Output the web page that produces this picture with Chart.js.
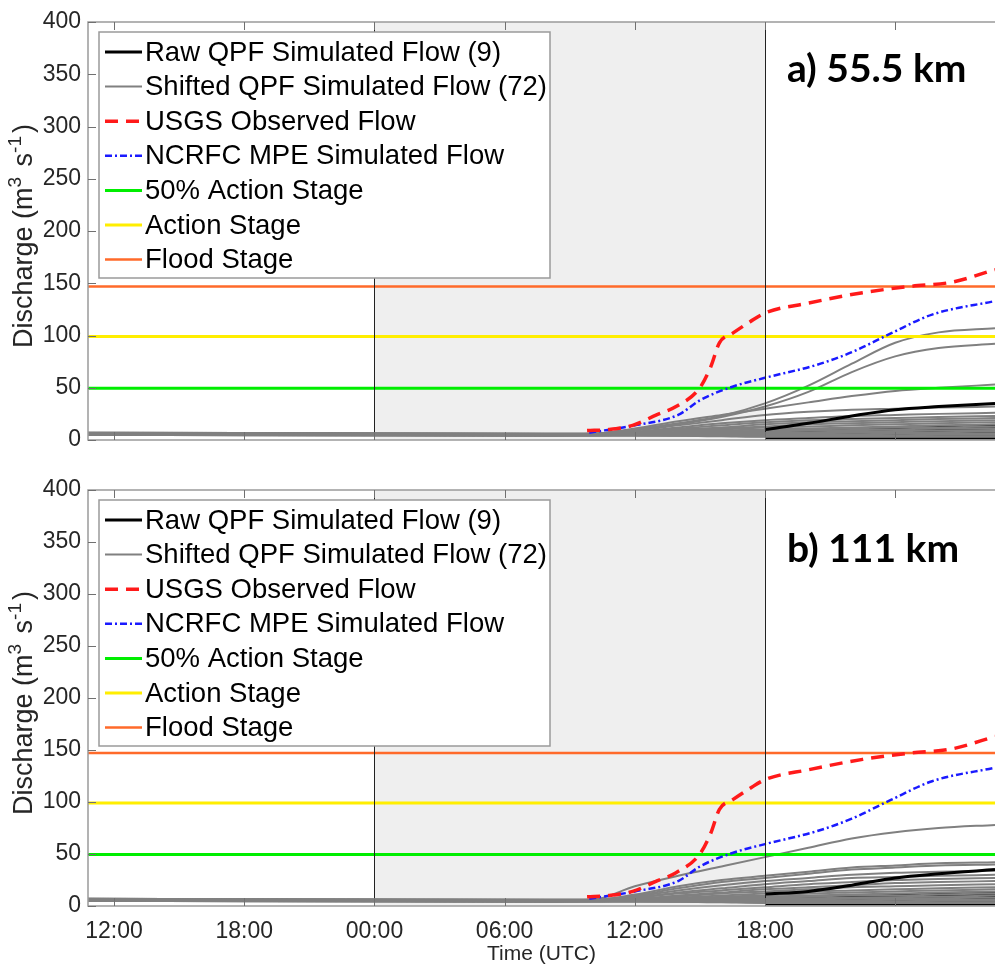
<!DOCTYPE html>
<html>
<head>
<meta charset="utf-8">
<script src="https://cdn.jsdelivr.net/npm/chart.js@4.4.1/dist/chart.umd.min.js"></script>
<style>
  html, body { margin: 0; padding: 0; background: #fff; }
  #wrap { position: relative; width: 995px; height: 970px; }
  canvas { position: absolute; left: 0; }
  #top { top: 0; }
  #bottom { top: 465px; }
</style>
</head>
<body>
<div id="wrap">
  <canvas id="top" width="995" height="465"></canvas>
  <canvas id="bottom" width="995" height="505"></canvas>
</div>
<script>
// x values are hours after 12:00 UTC of the first day
const xMin = -1.2, xMax = 40.6;
const tickHours = [0, 6, 12, 18, 24, 30, 36];
const tickLabels = ['12:00', '18:00', '00:00', '06:00', '12:00', '18:00', '00:00'];
const shadeFrom = 12, shadeTo = 30;

const floodStage = 147, actionStage = 99, halfAction = 49.5;

// USGS observed flow
const obsHours = [21.8, 22.8, 23.9, 25, 25.9, 27, 27.5, 27.9, 28.5, 29.3, 30, 32, 34.5, 36.7, 38.6, 40.6];
const obsFlow  = [9, 10, 14, 24, 32, 50, 70, 93, 102, 113, 121.5, 131, 141, 147, 151, 163];

// NCRFC MPE simulated flow
const mpeHours = [21.9, 24, 26, 27, 28.5, 30, 32.4, 34, 35.8, 37.7, 40.6];
const mpeFlow  = [7, 14, 24, 38, 51, 59.5, 72, 84, 102, 120, 133];

// simulated runs share one time grid
const simHours = [-1.2, 20, 22, 24, 26, 28, 30, 32, 34, 36, 38, 40.6];

// a) 55.5 km
const shiftedA = [
  [7, 6, 6, 10, 16, 23, 35, 52, 73, 93, 103, 107],
  [7, 6, 6, 10, 15, 22, 32, 46, 65, 80, 88, 92],
  [7, 6, 6, 11, 18, 24, 30, 36, 42, 47, 50, 53],
  [6.5, 5.5, 6, 9, 14, 19, 24, 27, 29, 30, 31, 32],
  [6.5, 5.5, 5.5, 8, 12, 16, 19, 21, 23, 24, 25, 26],
  [6.5, 5.5, 5.5, 7, 11, 14, 17, 19, 20, 21, 22, 23],
  [6, 5, 5, 7, 10, 12, 15, 17, 18, 19, 20, 21],
  [6, 5, 5, 6.5, 9, 11, 13, 15, 16, 17, 18, 19],
  [6, 5, 5, 6, 8, 10, 12, 13, 14, 15, 16, 17],
  [6, 5, 5, 6, 7, 9, 10, 11, 12, 13, 14, 15],
  [5.5, 5, 5, 5.5, 6.5, 8, 9, 10, 11, 12, 12, 13],
  [5.5, 5, 5, 5.5, 6, 7, 8, 9, 9.5, 10, 11, 11],
  [5.5, 4.5, 5, 5, 5.5, 6, 7, 7.5, 8, 8.5, 9, 9.5],
  [5.5, 4.5, 4.5, 5, 5, 5.5, 6, 6.5, 7, 7, 7.5, 8],
  [5, 4.5, 4.5, 5, 5, 5, 5, 5.5, 5.5, 6, 6, 6],
  [5, 4.5, 4.5, 4.5, 4.5, 4.5, 4.5, 4.5, 4.5, 4.5, 5, 5],
  [5, 4, 4.5, 4.5, 4, 4, 3.5, 3.5, 3.5, 3.5, 3.5, 3.5],
  [5, 4, 4, 4, 4, 3.5, 3, 3, 3, 3, 3, 3]
];
const rawA = [
  [null, null, null, null, null, null, 10, 16, 23, 29, 32, 35],
  [null, null, null, null, null, null, 7, 8, 8.5, 8.5, 9, 9],
  [null, null, null, null, null, null, 6, 6, 6.5, 7, 7, 7.5],
  [null, null, null, null, null, null, 4.5, 5, 5, 5.5, 5.5, 6],
  [null, null, null, null, null, null, 3.5, 3.5, 4, 4, 4, 4.5],
  [null, null, null, null, null, null, 2.5, 2.5, 2.5, 3, 3, 3],
  [null, null, null, null, null, null, 2, 2, 2, 2, 2, 2],
  [null, null, null, null, null, null, 8, 9, 10, 11, 12, 13],
  [null, null, null, null, null, null, 5, 5, 5.5, 6, 6, 6.5]
];

// b) 111 km
const shiftedB = [
  [7, 6, 6, 19, 29, 38, 47, 56, 65, 71, 75, 78],
  [7, 6, 6, 11, 19, 25, 29, 33, 37, 39, 41, 42],
  [7, 6, 6, 10, 17, 23, 27, 31, 35, 37, 39, 40],
  [6.5, 5.5, 6, 9, 15, 20, 24, 27, 30, 32, 33, 34],
  [6.5, 5.5, 5.5, 8, 13, 17, 21, 24, 27, 28, 29, 30],
  [6.5, 5.5, 5.5, 8, 12, 15, 18, 21, 23, 25, 26, 27],
  [6, 5, 5, 7, 10, 13, 16, 18, 20, 22, 23, 24],
  [6, 5, 5, 7, 9, 12, 14, 16, 18, 19, 20, 21],
  [6, 5, 5, 6, 8, 10, 12, 14, 15, 16, 17, 18],
  [6, 5, 5, 6, 7, 9, 10, 12, 13, 14, 15, 16],
  [5.5, 5, 5, 5.5, 6.5, 8, 9, 10, 11, 12, 13, 14],
  [5.5, 5, 5, 5.5, 6, 7, 8, 9, 10, 10, 11, 12],
  [5.5, 4.5, 5, 5, 5.5, 6, 7, 7.5, 8, 8.5, 9, 10],
  [5.5, 4.5, 4.5, 5, 5, 5.5, 6, 6.5, 7, 7, 7.5, 8],
  [5, 4.5, 4.5, 5, 5, 5, 5, 5.5, 5.5, 6, 6, 6],
  [5, 4.5, 4.5, 4.5, 4.5, 4.5, 4.5, 4.5, 4.5, 4.5, 5, 5],
  [5, 4, 4.5, 4.5, 4, 4, 3.5, 3.5, 3.5, 3.5, 3.5, 3.5],
  [5, 4, 4, 4, 4, 3.5, 3, 3, 3, 3, 3, 3]
];
const rawB = [
  [null, null, null, null, null, null, 11.5, 14, 20, 27, 31, 35],
  [null, null, null, null, null, null, 8, 8.5, 8.5, 9, 9, 9],
  [null, null, null, null, null, null, 6, 6.5, 7, 7, 7.5, 8],
  [null, null, null, null, null, null, 5, 5, 5.5, 6, 6, 6.5],
  [null, null, null, null, null, null, 4, 4, 4.5, 4.5, 5, 5],
  [null, null, null, null, null, null, 3, 3, 3, 3.5, 3.5, 3.5],
  [null, null, null, null, null, null, 2, 2, 2, 2, 2, 2],
  [null, null, null, null, null, null, 7, 8, 9, 10, 11, 12],
  [null, null, null, null, null, null, 4.5, 5, 5.5, 6, 6.5, 7]
];

const FONT = "'Liberation Sans', Arial, sans-serif";
Chart.defaults.font.family = FONT;

function pts(xs, ys) {
  return xs.map((x, i) => ({ x: x, y: ys[i] })).filter(p => p.y !== null);
}

function buildDatasets(raw, shifted) {
  const sets = [];
  raw.forEach((run, i) => sets.push({
    label: i === 0 ? 'Raw QPF Simulated Flow (9)' : '',
    data: pts(simHours, run), borderColor: '#000000', borderWidth: 3,
    order: i === 0 ? 3 : 5
  }));
  shifted.forEach((run, i) => sets.push({
    label: i === 0 ? 'Shifted QPF Simulated Flow (72)' : '',
    data: pts(simHours, run), borderColor: '#808080', borderWidth: 2, order: 4
  }));
  sets.push({ label: 'USGS Observed Flow', data: pts(obsHours, obsFlow),
    borderColor: '#ff1a1a', borderWidth: 3.5, borderDash: [13, 8], order: 0 });
  sets.push({ label: 'NCRFC MPE Simulated Flow', data: pts(mpeHours, mpeFlow),
    borderColor: '#1a1aff', borderWidth: 2.5, borderDash: [7, 3, 2, 3], order: 1 });
  sets.push({ label: '50% Action Stage', data: pts([xMin, xMax], [halfAction, halfAction]),
    borderColor: '#00ee00', borderWidth: 3, order: 2 });
  sets.push({ label: 'Action Stage', data: pts([xMin, xMax], [actionStage, actionStage]),
    borderColor: '#ffee00', borderWidth: 3, order: 2 });
  sets.push({ label: 'Flood Stage', data: pts([xMin, xMax], [floodStage, floodStage]),
    borderColor: '#ff6a2a', borderWidth: 2.5, order: 2 });
  return sets;
}

// y title with raised exponents, drawn on the canvas
const yTitleParts = [['Discharge (m', false], ['3', true], [' s', false], ['-1', true], [')', false]];

const panelPlugin = {
  id: 'panel',
  beforeDatasetsDraw(chart) {
    const { ctx, chartArea: a, scales: { x } } = chart;
    const x0 = x.getPixelForValue(shadeFrom), x1 = x.getPixelForValue(shadeTo);
    ctx.save();
    ctx.fillStyle = '#efefef';
    ctx.fillRect(x0, a.top, x1 - x0, a.bottom - a.top);
    ctx.restore();
  },
  afterDatasetsDraw(chart) {
    const { ctx, chartArea: a, scales: { x, y } } = chart;
    ctx.save();
    // forecast window edges
    ctx.strokeStyle = '#222';
    ctx.lineWidth = 1;
    [shadeFrom, shadeTo].forEach(h => {
      const px = Math.round(x.getPixelForValue(h)) + 0.5;
      ctx.beginPath(); ctx.moveTo(px, a.top); ctx.lineTo(px, a.bottom); ctx.stroke();
    });
    // axes box (right side is cut off in the figure)
    ctx.strokeStyle = '#9a9a9a';
    ctx.lineWidth = 1.5;
    ctx.beginPath();
    ctx.moveTo(a.right + 2, a.top); ctx.lineTo(a.left, a.top);
    ctx.lineTo(a.left, a.bottom); ctx.lineTo(a.right + 2, a.bottom);
    ctx.stroke();
    // inward ticks
    ctx.strokeStyle = '#707070';
    ctx.lineWidth = 1;
    x.ticks.forEach(t => {
      const px = Math.round(x.getPixelForValue(t.value)) + 0.5;
      ctx.beginPath();
      ctx.moveTo(px, a.bottom); ctx.lineTo(px, a.bottom - 8);
      ctx.moveTo(px, a.top); ctx.lineTo(px, a.top + 8);
      ctx.stroke();
    });
    y.ticks.forEach(t => {
      const py = Math.round(y.getPixelForValue(t.value)) + 0.5;
      ctx.beginPath(); ctx.moveTo(a.left, py); ctx.lineTo(a.left + 8, py); ctx.stroke();
    });
    ctx.restore();
  },
  afterDraw(chart, args, opts) {
    const { ctx, chartArea: a } = chart;
    const items = chart.data.datasets.filter(d => d.label);
    ctx.save();
    // legend box
    const bx = a.left + 11, by = a.top + 10, bw = 451, bh = 246, row = 34.6;
    ctx.fillStyle = '#fff';
    ctx.fillRect(bx, by, bw, bh);
    ctx.strokeStyle = '#9a9a9a';
    ctx.lineWidth = 1.5;
    ctx.strokeRect(bx, by, bw, bh);
    ctx.font = '27.5px ' + FONT;
    ctx.textBaseline = 'middle';
    ctx.textAlign = 'left';
    items.forEach((d, i) => {
      const cy = by + 20 + i * row;
      ctx.strokeStyle = d.borderColor;
      ctx.lineWidth = d.borderWidth;
      ctx.setLineDash(d.borderDash || []);
      ctx.beginPath(); ctx.moveTo(bx + 6, cy); ctx.lineTo(bx + 43, cy); ctx.stroke();
      ctx.setLineDash([]);
      ctx.fillStyle = '#000';
      ctx.fillText(d.label, bx + 46, cy + 1);
    });
    // y axis title
    const fs = 27, sup = 19;
    const partWidth = p => { ctx.font = (p[1] ? sup : fs) + 'px ' + FONT; return ctx.measureText(p[0]).width; };
    const total = yTitleParts.reduce((s, p) => s + partWidth(p), 0);
    ctx.translate(opts.titleX, (a.top + a.bottom) / 2 + opts.titleShift);
    ctx.rotate(-Math.PI / 2);
    ctx.fillStyle = '#262626';
    ctx.textBaseline = 'alphabetic';
    let cx = -total / 2;
    yTitleParts.forEach(p => {
      const w = partWidth(p) + (p[1] ? 3 : 0);
      ctx.fillText(p[0], cx, p[1] ? -1 : 10);
      cx += w;
    });
    ctx.setTransform(1, 0, 0, 1, 0, 0);
    // panel label
    ctx.font = "bold 39px Lato, 'Open Sans', sans-serif";
    ctx.textBaseline = 'alphabetic';
    ctx.fillStyle = '#000';
    ctx.fillText(opts.text, opts.x, a.top + opts.baseline);
    ctx.restore();
  }
};

function makeChart(id, raw, shifted, panelOpts, showX) {
  return new Chart(document.getElementById(id), {
    type: 'line',
    data: { datasets: buildDatasets(raw, shifted) },
    plugins: [panelPlugin],
    options: {
      responsive: false,
      animation: false,
      devicePixelRatio: 1,
      elements: {
        point: { radius: 0 },
        line: { cubicInterpolationMode: 'monotone', fill: false }
      },
      layout: { padding: { top: showX ? 25 : 22, right: 0, left: 0, bottom: 0 } },
      plugins: {
        legend: { display: false },
        tooltip: { enabled: false },
        panel: panelOpts
      },
      scales: {
        x: {
          type: 'linear',
          min: xMin, max: xMax,
          grid: { display: false, drawTicks: false },
          border: { display: false },
          afterBuildTicks: s => { s.ticks = tickHours.map(v => ({ value: v })); },
          afterFit: s => { s.height = showX ? 64 : 25; },
          ticks: {
            display: showX,
            color: '#262626', padding: 12,
            font: { size: 23 },
            callback: (v) => tickLabels[tickHours.indexOf(v)]
          },
          title: {
            display: showX, text: 'Time (UTC)', color: '#262626',
            font: { size: 21 }, padding: { top: 0, bottom: 3 }
          }
        },
        y: {
          min: 0, max: 400,
          grid: { display: false, drawTicks: false },
          border: { display: false },
          afterFit: s => { s.width = 88; },
          ticks: { stepSize: 50, color: '#262626', padding: 7, font: { size: 23 } }
        }
      }
    }
  });
}

makeChart('top', rawA, shiftedA, { text: 'a) 55.5 km', x: 787, baseline: 60, titleX: 22, titleShift: 8 }, false);
makeChart('bottom', rawB, shiftedB, { text: 'b) 111 km', x: 787, baseline: 72, titleX: 22, titleShift: 8 }, true);
</script>
</body>
</html>
